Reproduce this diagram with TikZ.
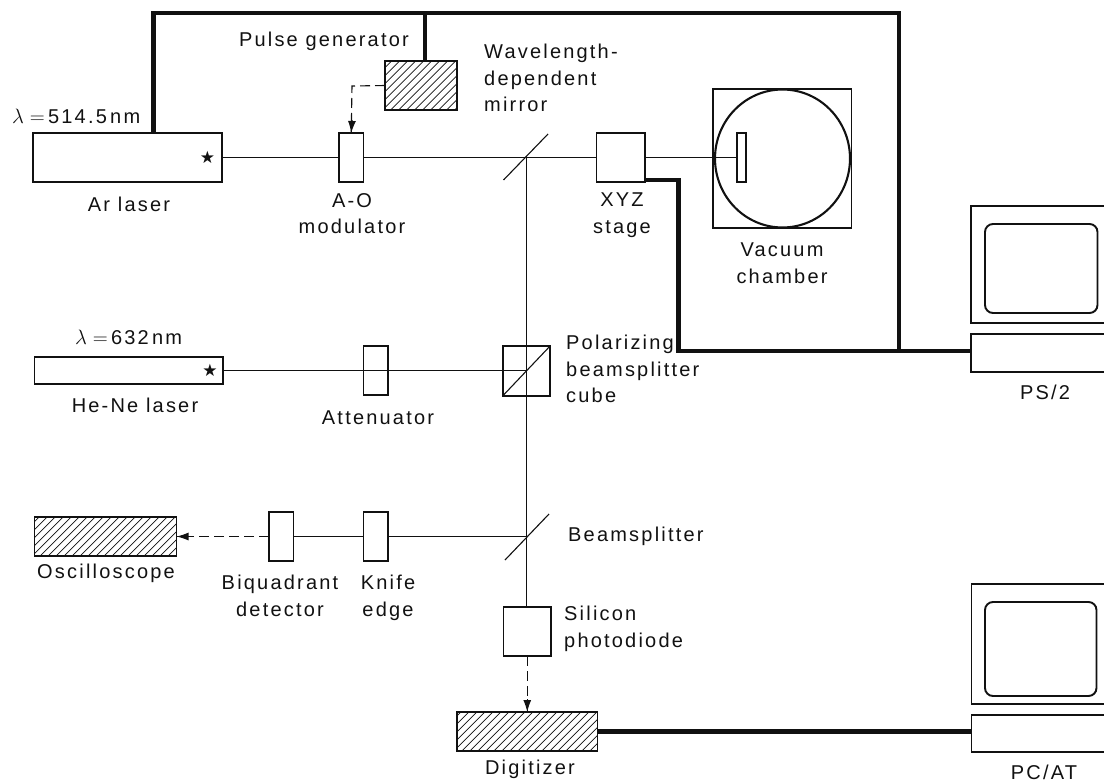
\documentclass[tikz,border=0pt]{standalone}
\usepackage{fontspec}
\usetikzlibrary{arrows.meta,shapes.geometric}
\setmainfont[LetterSpace=11]{Liberation Sans}
\newfontfamily\starfont{DejaVu Sans}
\definecolor{ink}{HTML}{111111}
\tikzset{
  thin beam/.style={draw=ink,line width=1.1pt},
  dash beam/.style={draw=ink,line width=1.1pt,dash pattern=on 10pt off 5pt},
  tip/.style={-{Latex[length=12pt,width=8pt]}},
  cable/.style={draw=ink,line width=4.8pt},
  box/.style={draw=ink,line width=1.9pt,fill=white,rectangle,inner sep=0pt,outer sep=0pt,anchor=north west},
  hatched/.style={box,path picture={
    \foreach \k in {-300,-292,...,300}
      \draw[ink,line width=0.7pt] ([xshift=\k pt,yshift=-150pt]path picture bounding box.center) -- ++(300pt,300pt);}},
  lab/.style={text=ink,font=\fontsize{20}{26.5}\selectfont,inner sep=0pt,align=center},
  labl/.style={lab,align=left,anchor=west},
  starmark/.style={text=ink,font=\starfont\fontsize{17}{17}\selectfont,inner sep=0pt},
}
\begin{document}
\begin{tikzpicture}[x=1pt,y=-1pt]
\useasboundingbox (0,0) rectangle (1104,782);
% coordinates
\coordinate (mirA) at (503.5,180); \coordinate (mirB) at (548,134);
\coordinate (bsA) at (505,560); \coordinate (bsB) at (549,514);
\coordinate (mirC) at (526.5,157.5); \coordinate (bsC) at (526.5,536.5);
\coordinate (cubeC) at (526.5,370.5);
\coordinate (topL) at (153.6,13); \coordinate (topM) at (425,13); \coordinate (topR) at (899,13);
\coordinate (botR) at (899,351); \coordinate (botL) at (678.5,351); \coordinate (xyzC) at (678.5,180);
\coordinate (dashC) at (352,86);
% boxes
\node[box,minimum width=189pt,minimum height=49pt] (ar) at (33,133) {};
\node[box,minimum width=24.5pt,minimum height=49pt] (ao) at (339,133) {};
\node[box,minimum width=48.5pt,minimum height=49pt] (xyz) at (596.5,133) {};
\node[hatched,minimum width=72pt,minimum height=49pt] (pulse) at (385,61) {};
\node[box,fill=none,minimum width=138.5pt,minimum height=139pt] (vacbox) at (713,89) {};
\node[draw=ink,line width=2.1pt,ellipse,inner sep=0pt,outer sep=0pt,minimum width=135pt,minimum height=138pt] (vac) at (782.5,158.5) {};
\node[box,minimum width=9pt,minimum height=49pt] (sample) at (737,133) {};
\node[box,minimum width=188.5pt,minimum height=27pt] (hene) at (34.5,357) {};
\node[box,fill=none,minimum width=24.5pt,minimum height=49pt] (atten) at (363.5,346) {};
\node[box,fill=none,minimum width=47.5pt,minimum height=50pt] (cube) at (502.6,346) {};
\node[box,minimum width=24.5pt,minimum height=49pt] (knife) at (363.5,512) {};
\node[box,minimum width=24.5pt,minimum height=49pt] (biq) at (269,512) {};
\node[hatched,minimum width=142pt,minimum height=39pt] (osc) at (34.5,517) {};
\node[box,minimum width=47.5pt,minimum height=49pt] (diode) at (503.5,607) {};
\node[hatched,minimum width=140.5pt,minimum height=39pt] (dig) at (457,712) {};
% thin beams
\draw[thin beam] (ar.east) -- (ao.west);
\draw[thin beam] (ao.east) -- (xyz.west);
\draw[thin beam] (xyz.east) -- (sample.west);
\draw[thin beam] (hene.east) -- (cubeC);
\draw[thin beam] (mirC) -- (mirC |- diode.north);
\draw[thin beam] (cube.south west) -- (cube.north east);
\draw[thin beam] (mirA) -- (mirB);
\draw[thin beam] (bsA) -- (bsB);
\draw[thin beam] (bsC) -- (knife.east);
\draw[thin beam] (knife.west) -- (biq.east);
% computers
\node[box,minimum width=140pt,minimum height=117pt] (mon1) at (970.6,206) {};
\node[box,rounded corners=8pt,minimum width=112.5pt,minimum height=89pt] (scr1) at (985,224) {};
\node[box,minimum width=140pt,minimum height=38pt] (kb1) at (970.6,334) {};
\node[box,minimum width=140pt,minimum height=120pt] (mon2) at (971.5,584) {};
\node[box,rounded corners=8pt,minimum width=111.5pt,minimum height=94pt] (scr2) at (985,602) {};
\node[box,minimum width=140pt,minimum height=37pt] (kb2) at (971.5,715) {};
% dashed signals
\draw[dash beam] (pulse.west) -- (dashC) -- (ao.north);
\draw[draw=ink,line width=1.1pt,tip] (352,120) -- (ao.north);
\draw[dash beam] (biq.west) -- (osc.east);
\draw[draw=ink,line width=1.1pt,tip] (190,536.5) -- (osc.east);
\draw[dash beam] (diode.south) -- (dig.north);
\draw[draw=ink,line width=1.1pt,tip] (527.25,699) -- (dig.north);
% cables
\draw[cable,line join=miter] (topL |- ar.north) -- (topL) -- (topR) -- (botR) -- (botL) -- (xyzC) -- (xyzC -| xyz.east);
\draw[cable] (topM) -- (topM |- pulse.north);
\draw[cable] (botR) -- (botR -| kb1.west);
\draw[cable] (dig.east) -- (dig.east -| kb2.west);
% stars
\node[starmark] (s1) at (207.5,157.5) {★};
\node[starmark] (s2) at (210,370.5) {★};
% labels
\node[lab,anchor=east] (t1) at (409,41) {Pulse generator};
\node[labl,anchor=north west] (t2) at (484,44) {Wavelength-\\dependent\\mirror};
\node[labl] (t3) at (12,116) {$\lambda=$\,514.5\,nm};
\node[lab] (t4) at (129,204) {Ar laser};
\node[lab,anchor=north] (t5) at (352,193) {A-O\\modulator};
\node[lab,anchor=north] (t6) at (622,193) {XYZ\\stage};
\node[lab,anchor=north] (t7) at (782,243) {Vacuum\\chamber};
\node[lab] (t8) at (1045,392) {PS/2};
\node[labl,anchor=north west] (t9) at (566,335) {Polarizing\\beamsplitter\\cube};
\node[labl] (t10) at (75,337) {$\lambda=$\,632\,nm};
\node[lab] (t11) at (135,405) {He-Ne laser};
\node[lab] (t12) at (378,418) {Attenuator};
\node[lab] (t13) at (106,573) {Oscilloscope};
\node[lab,anchor=north] (t14) at (280,575) {Biquadrant\\detector};
\node[lab,anchor=north] (t15) at (388,575) {Knife\\edge};
\node[labl] (t16) at (568,536) {Beamsplitter};
\node[labl,anchor=north west] (t17) at (564,606) {Silicon\\photodiode};
\node[lab] (t18) at (530,769) {Digitizer};
\node[lab] (t19) at (1044,772) {PC/AT};
\end{tikzpicture}
\end{document}
